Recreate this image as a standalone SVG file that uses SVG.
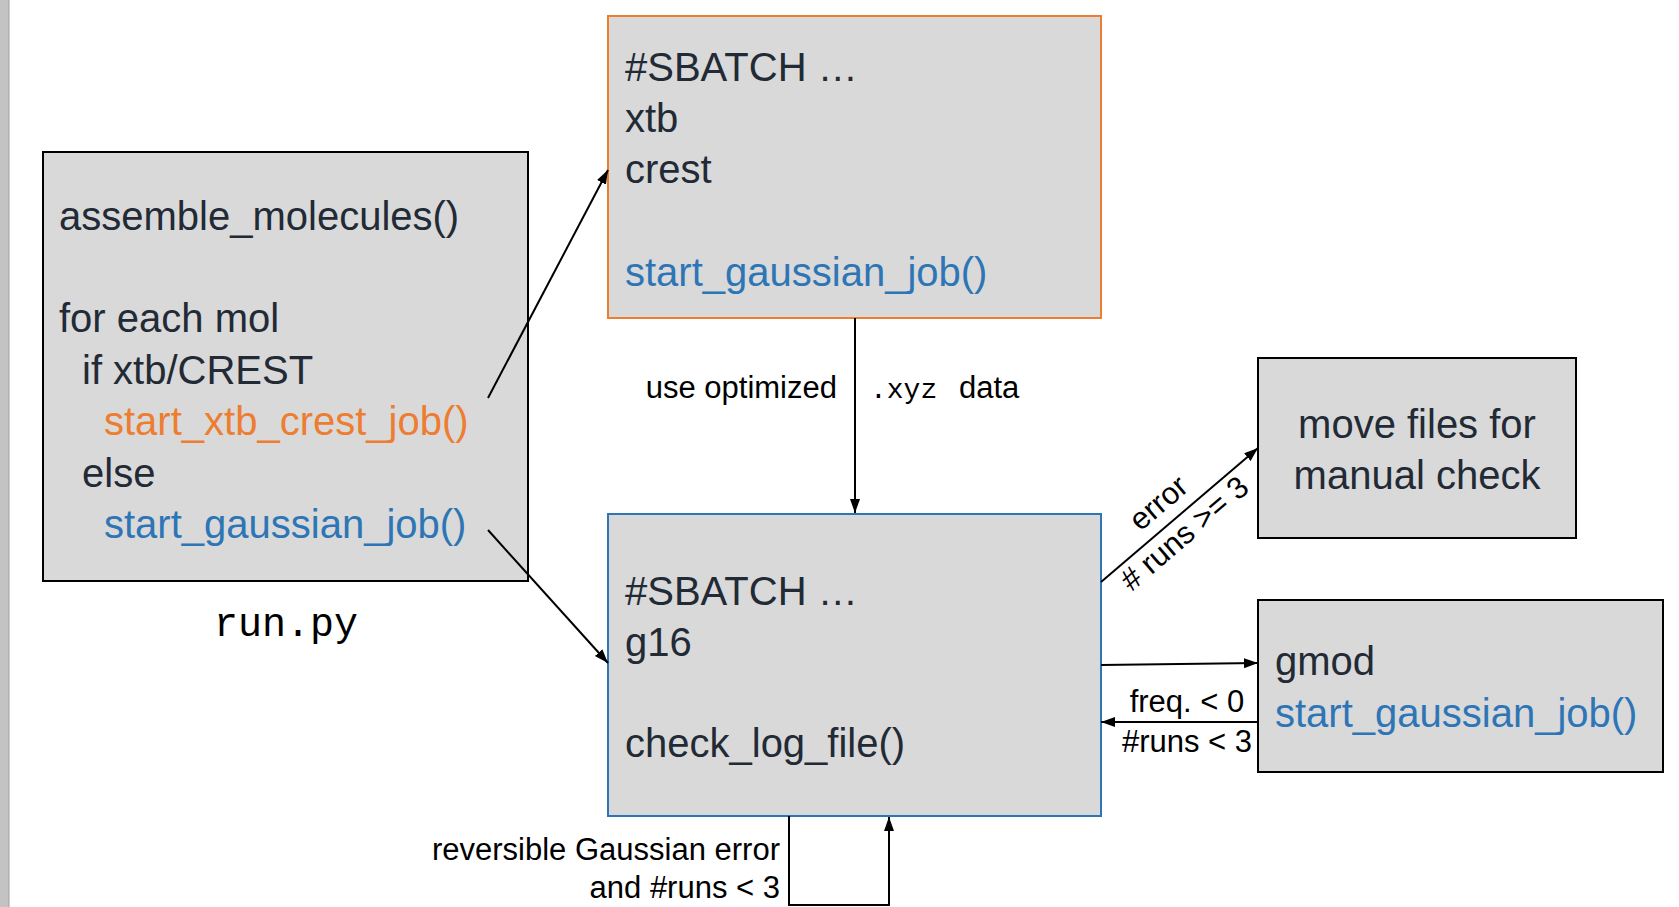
<svg xmlns="http://www.w3.org/2000/svg" width="1679" height="907" viewBox="0 0 1679 907">
<style>
.box{fill:#d9d9d9;stroke-width:2}
.t{font-family:"Liberation Sans",Arial,sans-serif;font-size:40px;fill:#222a35}
.o{fill:#ed7d31}
.b{fill:#2e75b6}
.l{font-family:"Liberation Sans",Arial,sans-serif;font-size:31px;fill:#000}
.m{font-family:"Liberation Mono","Courier New",monospace;fill:#000}
.c{stroke:#000;stroke-width:2;fill:none}
</style>
<defs>
<marker id="ah" markerUnits="userSpaceOnUse" markerWidth="16" markerHeight="12" refX="14" refY="5" orient="auto" viewBox="0 0 16 12">
<path d="M0,0 L14,5 L0,10 z" fill="#000"/>
</marker>
</defs>
<rect x="0" y="0" width="9" height="907" fill="#c3c3c3"/>
<line x1="9" y1="0" x2="9" y2="907" stroke="#a0a0a0" stroke-width="1"/>

<g id="runpy">
<rect class="box" x="43" y="152" width="485" height="429" stroke="#000"/>
<text class="t" x="59" y="230">assemble_molecules()</text>
<text class="t" x="59" y="332">for each mol</text>
<text class="t" x="82" y="384">if xtb/CREST</text>
<text class="t o" x="104" y="435">start_xtb_crest_job()</text>
<text class="t" x="82" y="487">else</text>
<text class="t b" x="104" y="538">start_gaussian_job()</text>
<text class="m" x="286" y="636" font-size="40" text-anchor="middle">run.py</text>
</g>

<g id="xtbjob">
<rect class="box" x="608" y="16" width="493" height="302" stroke="#ed7d31"/>
<text class="t" x="625" y="81">#SBATCH …</text>
<text class="t" x="625" y="132">xtb</text>
<text class="t" x="625" y="183">crest</text>
<text class="t b" x="625" y="286">start_gaussian_job()</text>
</g>

<g id="gaussjob">
<rect class="box" x="608" y="514" width="493" height="302" stroke="#2e75b6"/>
<text class="t" x="625" y="605">#SBATCH …</text>
<text class="t" x="625" y="656">g16</text>
<text class="t" x="625" y="757">check_log_file()</text>
</g>

<g id="manual">
<rect class="box" x="1258" y="358" width="318" height="180" stroke="#000"/>
<text class="t" x="1417" y="438" text-anchor="middle">move files for</text>
<text class="t" x="1417" y="489" text-anchor="middle">manual check</text>
</g>

<g id="gmod">
<rect class="box" x="1258" y="600" width="405" height="172" stroke="#000"/>
<text class="t" x="1275" y="675">gmod</text>
<text class="t b" x="1275" y="727">start_gaussian_job()</text>
</g>

<g id="connectors">
<line class="c" x1="488" y1="398" x2="608" y2="170" marker-end="url(#ah)"/>
<line class="c" x1="488" y1="530" x2="608" y2="663" marker-end="url(#ah)"/>
<line class="c" x1="855" y1="318" x2="855" y2="513" marker-end="url(#ah)"/>
<line class="c" x1="1101" y1="582" x2="1258" y2="448" marker-end="url(#ah)"/>
<line class="c" x1="1101" y1="665" x2="1258" y2="663" marker-end="url(#ah)"/>
<line class="c" x1="1258" y1="722" x2="1101" y2="722" marker-end="url(#ah)"/>
<polyline class="c" points="789,816 789,905 889,905 889,817" marker-end="url(#ah)"/>

<text class="l" x="837" y="398" text-anchor="end">use optimized</text>
<text class="m" x="870" y="398" font-size="28">.xyz</text>
<text class="l" x="959" y="398">data</text>
<g transform="translate(1173,520) rotate(-40.5)">
<text class="l" x="0" y="-12" text-anchor="middle">error</text>
<text class="l" x="0" y="28" text-anchor="middle"># runs &gt;= 3</text>
</g>
<text class="l" x="1187" y="712" text-anchor="middle">freq. &lt; 0</text>
<text class="l" x="1187" y="752" text-anchor="middle">#runs &lt; 3</text>
<text class="l" x="780" y="860" text-anchor="end">reversible Gaussian error</text>
<text class="l" x="780" y="898" text-anchor="end">and #runs &lt; 3</text>
</g>
</svg>
